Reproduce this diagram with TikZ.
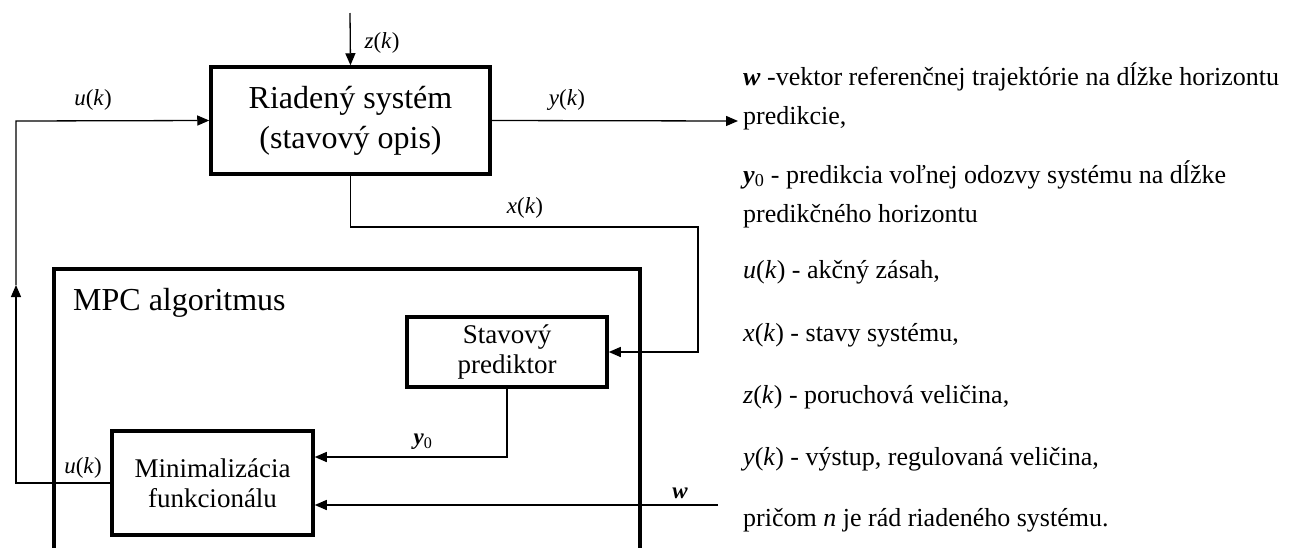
\documentclass[tikz,border=0pt]{standalone}
\usepackage{fontspec}
\setmainfont{Liberation Serif}
\usetikzlibrary{arrows.meta}
\newcommand{\vi}[1]{\textit{#1}}
\newcommand{\vb}[1]{\textbf{\textit{#1}}}
\begin{document}
\begin{tikzpicture}[x=1pt,y=-1pt]
        \tikzstyle{every node}=[font=\fontsize{23}{38}\selectfont, inner sep=0pt]
        \tikzstyle{blok}=[draw, line width=3.5pt, align=center, inner sep=0pt]
        \tikzstyle{sig}=[line width=1.3pt]
        \tikzstyle{sipka}=[sig, -{Triangle[length=12pt,width=10pt]}]
        \tikzstyle{popis}=[anchor=base west, align=left, font=\fontsize{26}{39}\selectfont]
        \useasboundingbox (0,0) rectangle (1295,547);
        % bloky
        \node[blok, minimum width=279pt, minimum height=107pt, font=\fontsize{32}{40}\selectfont] (sys) at (350.5,120.5) {Riadený systém\\(stavový opis)};
        \node[blok, minimum width=586pt, minimum height=300pt, anchor=north west] (mpc) at (52,267) {};
        \node[anchor=base west, font=\fontsize{32}{40}\selectfont] (mpcnazov) at (73,310) {MPC algoritmus};
        \node[blok, minimum width=200pt, minimum height=70pt, font=\fontsize{27}{30}\selectfont] (pred) at (507,352) {Stavový\\prediktor};
        \node[blok, minimum width=201pt, minimum height=104pt, font=\fontsize{27}{30}\selectfont] (min) at (212.5,483) {Minimalizácia\\funkcionálu};
        % signaly
        \coordinate (zin) at (350,13);
        \coordinate (yout) at (738,121);
        \coordinate (xroh) at (698,227);
        \coordinate (win) at (718,505);
        \coordinate (uroh1) at (16,483);
        \coordinate (usip) at (16,285);
        \coordinate (uroh2) at (16,121);
        \draw[sipka] (zin) -- (sys.north);
        \draw[sipka] (sys.east) -- (yout);
        \draw[sipka] (sys.south) |- (xroh) |- (pred.east);
        \draw[sipka] (pred.south) |- ([yshift=26pt]min.east);
        \draw[sipka] (win) -- ([yshift=-22pt]min.east);
        \draw[sipka] (min.west) -- (uroh1) -- (usip);
        \draw[sipka] (usip) -- (uroh2) -- (sys.west);
        % oznacenia
        \node (zk) at (382,43) {\vi{z}(\vi{k})};
        \node (uk1) at (93,100) {\vi{u}(\vi{k})};
        \node (yk) at (567,100) {\vi{y}(\vi{k})};
        \node (xk) at (525,208) {\vi{x}(\vi{k})};
        \node (y0) at (423,442) {\vb{y}\textsubscript{0}};
        \node (w) at (680,493) {\vb{w}};
        \node (uk2) at (83,468) {\vi{u}(\vi{k})};
        % vysvetlivky
        \node[popis] (popw) at (743,124) {\vb{w} -vektor referenčnej trajektórie na dĺžke horizontu\\predikcie,};
        \node[popis] (popy0) at (743,222) {\vb{y}\textsubscript{0} - predikcia voľnej odozvy systému na dĺžke\\predikčného horizontu};
        \node[popis] (popu) at (743,278) {\vi{u}(\vi{k}) - akčný zásah,};
        \node[popis] (popx) at (743,341) {\vi{x}(\vi{k}) - stavy systému,};
        \node[popis] (popz) at (743,403) {\vi{z}(\vi{k}) - poruchová veličina,};
        \node[popis] (popy) at (743,465) {\vi{y}(\vi{k}) - výstup, regulovaná veličina,};
        \node[popis] (popn) at (743,526) {pričom \vi{n} je rád riadeného systému.};
\end{tikzpicture}
\end{document}
